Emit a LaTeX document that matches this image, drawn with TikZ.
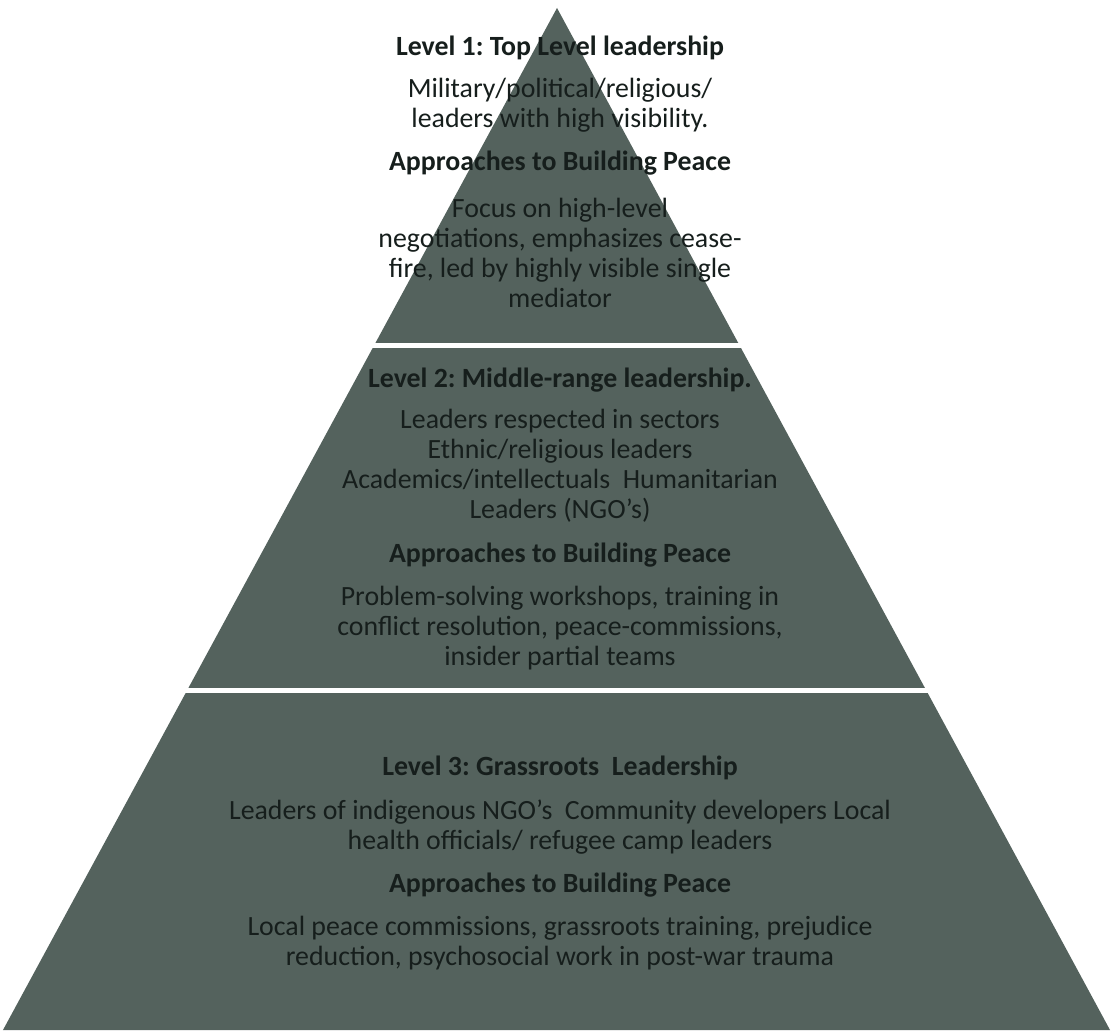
\documentclass[tikz,border=0pt]{standalone}
\usepackage{fontspec}
\setmainfont{Carlito}
\usepackage{tikz}
\definecolor{pyrfill}{RGB}{84,98,93}
\definecolor{pyrtext}{RGB}{22,30,28}
\frenchspacing

\begin{document}
\begin{tikzpicture}[every node/.style={font=\fontsize{19.8}{21.3}\selectfont, text=pyrtext, align=center, inner sep=0pt}]
	\useasboundingbox[fill=white] (0,0) rectangle (27.925,25.75);
	\fill[pyrfill] (13.925,25.55) -- (27.75,0) -- (0.075,0) -- cycle;
	\draw[white, line width=0.13cm] (0,17.1125) -- (27.925,17.1125);
	\draw[white, line width=0.13cm] (0,8.4875) -- (27.925,8.4875);
	% level 1
	\node (title1) at (14,24.55) {\textbf{Level 1: Top Level leadership}};
	\node (who1) at (14,23.125) {Military/political/religious/\\leaders with high visibility.};
	\node (app1) at (14,21.675) {\textbf{Approaches to Building Peace}};
	\node (how1) at (14,19.425) {Focus on high-level\\negotiations, emphasizes cease-\\fire, led by highly visible single\\mediator};
	% level 2
	\node (title2) at (14,16.25) {\textbf{Level 2: Middle-range leadership.}};
	\node (who2) at (14,14.1) {Leaders respected in sectors\\Ethnic/religious leaders\\Academics/intellectuals\ \ Humanitarian\\Leaders (NGO’s)};
	\node (app2) at (14,11.875) {\textbf{Approaches to Building Peace}};
	\node (how2) at (14,10.05) {Problem-solving workshops, training in\\conflict resolution, peace-commissions,\\insider partial teams};
	% level 3
	\node (title3) at (14,6.55) {\textbf{Level 3: Grassroots\ \ Leadership}};
	\node (who3) at (14,5.075) {Leaders of indigenous NGO’s\ \ Community developers Local\\health officials/ refugee camp leaders};
	\node (app3) at (14,3.625) {\textbf{Approaches to Building Peace}};
	\node (how3) at (14,2.175) {Local peace commissions, grassroots training, prejudice\\reduction, psychosocial work in post-war trauma};
\end{tikzpicture}
\end{document}
